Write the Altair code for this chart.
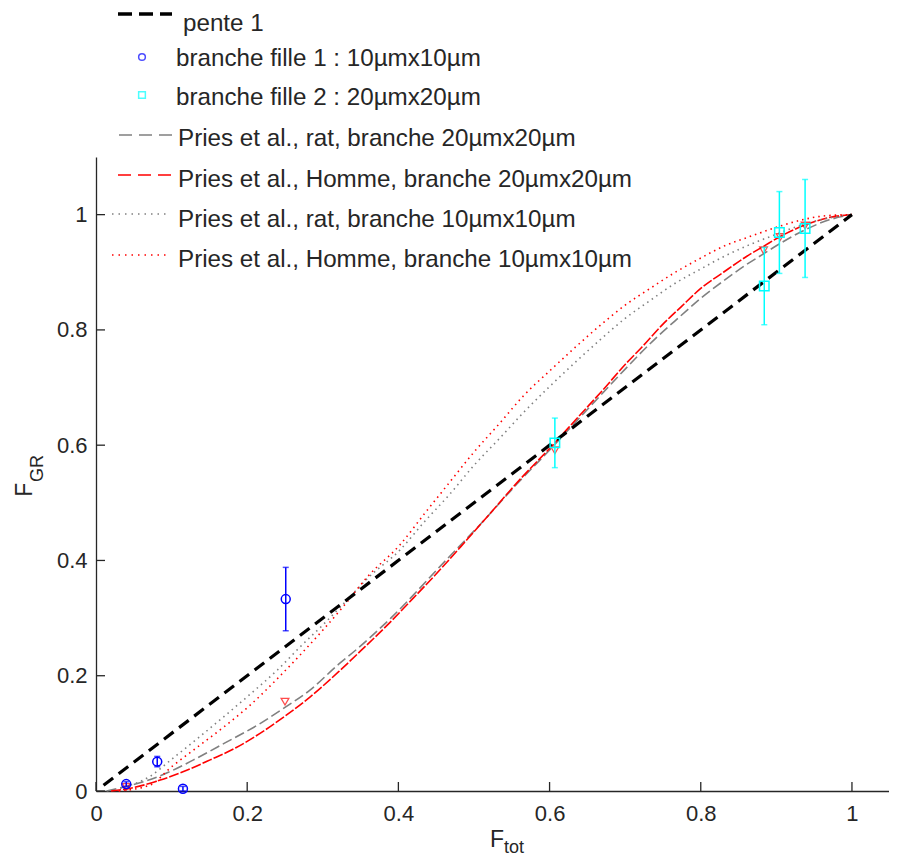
import altair as alt
import pandas as pd

FONT = "'Liberation Sans', Arial, sans-serif"
TFONT = "'Liberation Sans', Arial, sans-serif"
INK = "#262626"

# ---------------- data ----------------
pente_x = [0.01, 1.0]
pente_y = [0.01, 1.0]

fille1_x = [0.040, 0.081, 0.115, 0.251]
fille1_y = [0.012, 0.051, 0.004, 0.333]
fille1_err = [0.004, 0.009, 0.004, 0.055]

fille2_x = [0.607, 0.884, 0.904, 0.938]
fille2_y = [0.604, 0.876, 0.969, 0.976]
fille2_err = [0.043, 0.067, 0.071, 0.085]

rat20_x = [0.014, 0.04, 0.063, 0.10, 0.129, 0.17, 0.217, 0.25, 0.283, 0.321, 0.345, 0.39,
           0.4626, 0.51, 0.557, 0.604, 0.64, 0.67, 0.70, 0.74, 0.774, 0.80, 0.83, 0.86,
           0.883, 0.905, 0.94, 0.97, 1.0]
rat20_y = [0.0, 0.008, 0.016, 0.035, 0.054, 0.083, 0.117, 0.145, 0.175, 0.220, 0.246, 0.30,
           0.40, 0.465, 0.533, 0.597, 0.648, 0.69, 0.732, 0.785, 0.825, 0.855, 0.885, 0.913,
           0.932, 0.950, 0.975, 0.991, 1.0]

homme20_x = [0.02, 0.05, 0.085, 0.12, 0.151, 0.185, 0.217, 0.25, 0.283, 0.321, 0.35, 0.387,
             0.42, 0.458, 0.49, 0.519, 0.557, 0.604, 0.64, 0.67, 0.70, 0.722, 0.75, 0.774,
             0.80, 0.83, 0.86, 0.883, 0.905, 0.94, 0.97, 1.0]
homme20_y = [0.0, 0.006, 0.019, 0.036, 0.054, 0.075, 0.100, 0.130, 0.163, 0.207, 0.243, 0.29,
             0.335, 0.388, 0.435, 0.478, 0.535, 0.600, 0.652, 0.695, 0.74, 0.77, 0.81, 0.84,
             0.872, 0.90, 0.927, 0.945, 0.962, 0.983, 0.995, 1.0]

rat10_x = [0.032, 0.071, 0.10, 0.138, 0.17, 0.204, 0.24, 0.270, 0.30, 0.329, 0.36, 0.402,
           0.435, 0.468, 0.50, 0.534, 0.565, 0.601, 0.635, 0.667, 0.70, 0.733, 0.765, 0.799,
           0.83, 0.865, 0.90, 0.931, 0.965, 1.0]
rat10_y = [0.005, 0.025, 0.055, 0.095, 0.130, 0.168, 0.210, 0.250, 0.288, 0.327, 0.370, 0.418,
           0.468, 0.515, 0.565, 0.612, 0.656, 0.703, 0.745, 0.783, 0.820, 0.851, 0.880, 0.905,
           0.927, 0.948, 0.966, 0.981, 0.993, 1.0]

homme10_x = [0.03, 0.071, 0.10, 0.138, 0.17, 0.204, 0.24, 0.270, 0.30, 0.329, 0.36, 0.402,
             0.435, 0.468, 0.50, 0.534, 0.565, 0.601, 0.635, 0.667, 0.70, 0.733, 0.765, 0.799,
             0.83, 0.865, 0.90, 0.931, 0.965, 1.0]
homme10_y = [0.0, 0.010, 0.042, 0.080, 0.112, 0.149, 0.195, 0.236, 0.279, 0.323, 0.373, 0.427,
             0.482, 0.536, 0.588, 0.638, 0.685, 0.730, 0.771, 0.808, 0.843, 0.872, 0.899, 0.924,
             0.945, 0.962, 0.978, 0.990, 0.998, 1.0]

tri_x = [0.04, 0.25, 0.607, 0.883, 0.905, 0.938]
tri_y = [0.007, 0.155, 0.591, 0.938, 0.961, 0.981]

tick_values = [0, 0.2, 0.4, 0.6, 0.8, 1]

legend_labels = [
    "pente 1",
    "branche fille 1 : 10µmx10µm",
    "branche fille 2 : 20µmx20µm",
    "Pries et al., rat, branche 20µmx20µm",
    "Pries et al., Homme, branche 20µmx20µm",
    "Pries et al., rat, branche 10µmx10µm",
    "Pries et al., Homme, branche 10µmx10µm",
]

# ---------------- layout ----------------
W, H = 793, 634
xs = alt.Scale(domain=[0, 1.049], nice=False, zero=False)
ys = alt.Scale(domain=[0, 1.1], nice=False, zero=False)

x_axis = alt.Axis(values=tick_values, format="~g", title=None, grid=False, ticks=False,
                  tickSize=0, labelFontSize=22, labelFont=TFONT, labelColor=INK,
                  labelPadding=12, domainColor=INK, domainWidth=1.3, labelOverlap=False,
                  labelFlush=False)
y_axis = alt.Axis(values=tick_values, format="~g", title=None, grid=False, ticks=False,
                  tickSize=0, labelFontSize=22, labelFont=TFONT, labelColor=INK,
                  labelPadding=9, domainColor=INK, domainWidth=1.3, labelOverlap=False,
                  labelFlush=False)


def X(f):
    return alt.X(f, type="quantitative", scale=xs, axis=x_axis)


def Y(f):
    return alt.Y(f, type="quantitative", scale=ys, axis=y_axis)


def line_layer(xv, yv, color, dash, width):
    df = pd.DataFrame({"x": xv, "y": yv})
    return alt.Chart(df).mark_line(color=color, strokeDash=dash, strokeWidth=width,
                                   interpolate="monotone").encode(x=X("x"), y=Y("y"))


layers = []
layers.append(line_layer(rat20_x, rat20_y, "#808080", [10, 4], 1.6))
layers.append(line_layer(homme20_x, homme20_y, "#ff0000", [10, 2], 1.6))
layers.append(line_layer(rat10_x, rat10_y, "#808080", [1.5, 4], 1.6))
layers.append(line_layer(homme10_x, homme10_y, "#ff0000", [1.5, 4], 1.6))
layers.append(line_layer(pente_x, pente_y, "#000000", [12, 7], 3.2))

# triangles (model markers)
tri_df = pd.DataFrame({"x": tri_x, "y": tri_y})
layers.append(alt.Chart(tri_df).mark_point(shape="triangle-down", filled=False, color="#ff0000",
                                           size=60, strokeWidth=1.3).encode(x=X("x"), y=Y("y")))


def points_with_err(xv, yv, ev, color, shape, size):
    df = pd.DataFrame({"x": xv, "y": yv, "lo": [a - b for a, b in zip(yv, ev)],
                       "hi": [a + b for a, b in zip(yv, ev)]})
    caps = pd.DataFrame({"x": xv + xv, "y": list(df["lo"]) + list(df["hi"])})
    bars = alt.Chart(df).mark_rule(color=color, strokeWidth=1.5).encode(
        x=X("x"), y=Y("lo"), y2="hi")
    capm = alt.Chart(caps).mark_tick(color=color, orient="horizontal", size=6,
                                     thickness=1.5).encode(x=X("x"), y=Y("y"))
    pts = alt.Chart(df).mark_point(shape=shape, filled=False, color=color, size=size,
                                   strokeWidth=1.5, opacity=1).encode(x=X("x"), y=Y("y"))
    return [bars, capm, pts]


layers += points_with_err(fille1_x, fille1_y, fille1_err, "#0000ff", "circle", 80)
layers += points_with_err(fille2_x, fille2_y, fille2_err, "#00ffff", "square", 90)

# inward axis ticks
tdf = pd.DataFrame({"v": tick_values})
layers.append(alt.Chart(tdf).mark_rule(color=INK, strokeWidth=1.3).encode(
    x=X("v"), y=alt.value(H), y2=alt.value(H - 9)))
layers.append(alt.Chart(tdf).mark_rule(color=INK, strokeWidth=1.3).encode(
    y=Y("v"), x=alt.value(0), x2=alt.value(9)))

one = pd.DataFrame({"k": [0]})

# ---------------- legend (manual) ----------------
leg_y = [-143, -100, -62, -22, 18, 57, 98]
leg_base = [-126, -91, -52, -11, 30, 70, 109.5]
leg_tx = [87, 80, 80, 82, 82, 82, 82]

layers.append(alt.Chart(one).mark_rule(color="#000000", strokeWidth=3.5, strokeDash=[14, 7]).encode(
    x=alt.value(22), x2=alt.value(76), y=alt.value(leg_y[0])))
layers.append(alt.Chart(one).mark_point(shape="circle", filled=False, color="#0000ff", size=45,
                                        strokeWidth=1.5).encode(x=alt.value(46), y=alt.value(leg_y[1])))
layers.append(alt.Chart(one).mark_point(shape="square", filled=False, color="#00ffff", size=45,
                                        strokeWidth=1.5).encode(x=alt.value(46), y=alt.value(leg_y[2])))
layers.append(alt.Chart(one).mark_rule(color="#808080", strokeWidth=1.5, strokeDash=[13, 7]).encode(
    x=alt.value(23), x2=alt.value(76), y=alt.value(leg_y[3])))
layers.append(alt.Chart(one).mark_rule(color="#ff0000", strokeWidth=1.5, strokeDash=[13, 7]).encode(
    x=alt.value(22), x2=alt.value(76), y=alt.value(leg_y[4])))
layers.append(alt.Chart(one).mark_rule(color="#808080", strokeWidth=1.5, strokeDash=[1.5, 5]).encode(
    x=alt.value(16), x2=alt.value(70), y=alt.value(leg_y[5])))
layers.append(alt.Chart(one).mark_rule(color="#ff0000", strokeWidth=1.5, strokeDash=[1.5, 5]).encode(
    x=alt.value(16), x2=alt.value(70), y=alt.value(leg_y[6])))

for lab, tx, by in zip(legend_labels, leg_tx, leg_base):
    layers.append(alt.Chart(one).mark_text(align="left", baseline="alphabetic", font=FONT,
                                           fontSize=24.2, color=INK).encode(
        x=alt.value(tx), y=alt.value(by), text=alt.value(lab)))

# ---------------- axis titles with subscripts ----------------
layers.append(alt.Chart(one).mark_text(align="left", baseline="alphabetic", font=TFONT,
                                       fontSize=23, color=INK).encode(
    x=alt.value(394), y=alt.value(690), text=alt.value("F")))
layers.append(alt.Chart(one).mark_text(align="left", baseline="alphabetic", font=TFONT,
                                       fontSize=18, color=INK).encode(
    x=alt.value(408), y=alt.value(696), text=alt.value("tot")))
layers.append(alt.Chart(one).mark_text(align="left", baseline="alphabetic", font=TFONT,
                                       fontSize=23, color=INK, angle=270).encode(
    x=alt.value(-64.3), y=alt.value(339.7), text=alt.value("F")))
layers.append(alt.Chart(one).mark_text(align="left", baseline="alphabetic", font=TFONT,
                                       fontSize=18, color=INK, angle=270).encode(
    x=alt.value(-52.7), y=alt.value(325), text=alt.value("GR")))

chart = alt.layer(*layers).properties(
    width=W, height=H,
    padding={"left": 88, "top": 149, "right": 0, "bottom": 68},
    autosize=alt.AutoSizeParams(type="none"),
    background="white",
).configure_view(stroke=None)

chart.save("out.html", embed_options={"renderer": "svg", "actions": False})
